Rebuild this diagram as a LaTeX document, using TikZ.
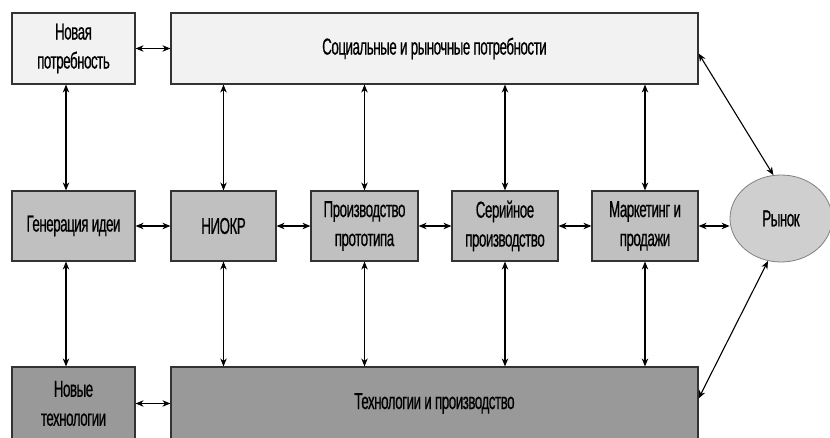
\documentclass[tikz,border=0pt]{standalone}
\usepackage{fontspec}
\usetikzlibrary{arrows.meta,shapes.geometric}
\newfontfamily\lblfont[FakeStretch=0.58,LetterSpace=-2,FakeBold=0.6]{Liberation Sans}

\definecolor{paleFill}{HTML}{F2F2F2}
\definecolor{midFill}{HTML}{C0C0C0}
\definecolor{darkFill}{HTML}{999999}
\definecolor{ovalFill}{HTML}{CFCFCF}
\definecolor{edgeCol}{HTML}{333333}

\tikzset{
  lbl/.style={font=\lblfont\fontsize{23}{29}\selectfont},
  box/.style={draw=edgeCol, line width=1.2pt, rectangle, inner sep=0pt,
    align=center, lbl},
  palebox/.style={box, fill=paleFill},
  midbox/.style={box, fill=midFill},
  darkbox/.style={box, fill=darkFill},
  link/.style={line width=1.1pt, black, {Stealth[length=8pt,width=6.5pt]}-{Stealth[length=8pt,width=6.5pt]}},
}

\begin{document}
\begin{tikzpicture}[x=1pt,y=-1pt]
\useasboundingbox (0,0) rectangle (830,438);

% top row
\node[palebox, minimum width=123pt, minimum height=71pt] (need) at (73.5,48.5) {Новая\\потребность};
\node[palebox, minimum width=527pt, minimum height=71pt] (soc) at (434.5,48.5) {Социальные и рыночные потребности};

% middle row
\node[midbox, minimum width=123pt, minimum height=70pt] (idea) at (73.5,226) {Генерация идеи};
\node[midbox, minimum width=105pt, minimum height=70pt] (rnd) at (223.5,226) {НИОКР};
\node[midbox, minimum width=107pt, minimum height=70pt] (proto) at (364.5,226) {Производство\\прототипа};
\node[midbox, minimum width=106pt, minimum height=70pt] (serial) at (505,226) {Серийное\\производство};
\node[midbox, minimum width=106pt, minimum height=70pt] (mkt) at (645,226) {Маркетинг и\\продажи};
\node[ellipse, draw=gray, line width=0.8pt, fill=ovalFill, minimum width=102pt, minimum height=87pt,
  inner sep=0pt, lbl] (market) at (781,218.5) {Рынок};

% bottom row
\node[darkbox, minimum width=123pt, minimum height=73pt] (newtech) at (73.5,403.5) {Новые\\технологии};
\node[darkbox, minimum width=527pt, minimum height=73pt] (techprod) at (434.5,403.5) {Технологии и производство};

% horizontal links
\draw[link] (need.east) -- (soc.west);
\draw[link] (idea.east) -- (rnd.west);
\draw[link] (rnd.east) -- (proto.west);
\draw[link] (proto.east) -- (serial.west);
\draw[link] (serial.east) -- (mkt.west);
\draw[link] (mkt.east) -- (mkt.east -| market.west);
\draw[link] (newtech.east) -- (techprod.west);

% vertical links, left column
\draw[link] ([xshift=-7.5pt]need.south) -- ([xshift=-7.5pt]idea.north);
\draw[link] ([xshift=-7.5pt]idea.south) -- ([xshift=-7.5pt]newtech.north);

% vertical links from the wide bars to each stage
\foreach \s in {rnd,proto,serial,mkt}{
  \draw[link] (soc.south -| \s.north) -- (\s.north);
  \draw[link] (\s.south) -- (techprod.north -| \s.south);
}

% links to the market
\draw[link] ([yshift=-5pt]soc.east) -- (market.100);
\draw[link] (market.253) -- ([yshift=5pt]techprod.east);
\end{tikzpicture}
\end{document}
